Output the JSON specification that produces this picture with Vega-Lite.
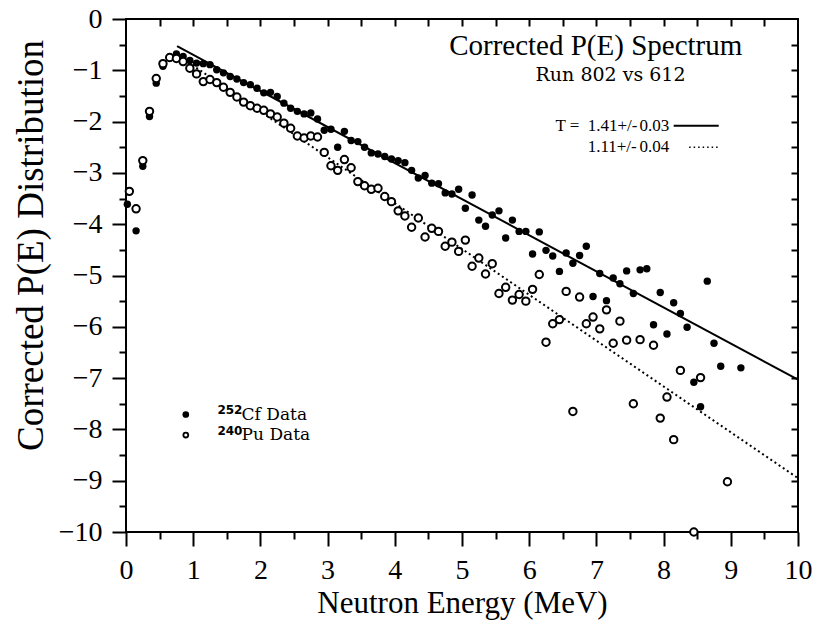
{
  "$schema": "https://vega.github.io/schema/vega-lite/v6.json",
  "width": 672,
  "height": 513,
  "autosize": {"type": "none"},
  "padding": {"left": 126, "top": 19, "right": 15, "bottom": 93},
  "background": "white",
  "config": {
    "view": {"stroke": "black", "strokeWidth": 2},
    "axis": {"grid": false, "domain": false, "tickColor": "black", "labelColor": "black", "titleColor": "black", "labelFont": "Liberation Serif", "titleFont": "Liberation Serif", "titleFontWeight": "normal"}
  },
  "datasets": {
    "cf": [
      {"x": 0.02, "y": -3.61}, {"x": 0.15, "y": -4.13}, {"x": 0.25, "y": -2.87}, {"x": 0.35, "y": -1.9}, {"x": 0.45, "y": -1.25},
      {"x": 0.55, "y": -0.92}, {"x": 0.65, "y": -0.76}, {"x": 0.75, "y": -0.68}, {"x": 0.85, "y": -0.73}, {"x": 0.95, "y": -0.81},
      {"x": 1.05, "y": -0.86}, {"x": 1.15, "y": -0.87}, {"x": 1.25, "y": -0.89}, {"x": 1.35, "y": -0.99}, {"x": 1.45, "y": -1.05},
      {"x": 1.55, "y": -1.12}, {"x": 1.65, "y": -1.17}, {"x": 1.75, "y": -1.24}, {"x": 1.85, "y": -1.28}, {"x": 1.95, "y": -1.35},
      {"x": 2.05, "y": -1.44}, {"x": 2.15, "y": -1.43}, {"x": 2.25, "y": -1.51}, {"x": 2.35, "y": -1.64}, {"x": 2.45, "y": -1.74},
      {"x": 2.55, "y": -1.8}, {"x": 2.65, "y": -1.85}, {"x": 2.75, "y": -1.83}, {"x": 2.85, "y": -1.95}, {"x": 2.95, "y": -2.17},
      {"x": 3.05, "y": -2.15}, {"x": 3.15, "y": -2.5}, {"x": 3.25, "y": -2.19}, {"x": 3.35, "y": -2.37}, {"x": 3.45, "y": -2.39},
      {"x": 3.55, "y": -2.5}, {"x": 3.65, "y": -2.61}, {"x": 3.75, "y": -2.63}, {"x": 3.85, "y": -2.68}, {"x": 3.95, "y": -2.73},
      {"x": 4.05, "y": -2.76}, {"x": 4.15, "y": -2.8}, {"x": 4.25, "y": -2.95}, {"x": 4.35, "y": -3.1}, {"x": 4.45, "y": -3.05},
      {"x": 4.55, "y": -3.2}, {"x": 4.65, "y": -3.21}, {"x": 4.75, "y": -3.39}, {"x": 4.85, "y": -3.41}, {"x": 4.95, "y": -3.32},
      {"x": 5.05, "y": -3.69}, {"x": 5.15, "y": -3.43}, {"x": 5.25, "y": -3.92}, {"x": 5.35, "y": -4.04}, {"x": 5.45, "y": -3.82},
      {"x": 5.55, "y": -3.74}, {"x": 5.65, "y": -4.27}, {"x": 5.75, "y": -3.92}, {"x": 5.85, "y": -4.14}, {"x": 5.95, "y": -4.14},
      {"x": 6.05, "y": -4.58}, {"x": 6.15, "y": -4.15}, {"x": 6.25, "y": -4.51}, {"x": 6.35, "y": -4.62}, {"x": 6.45, "y": -4.92},
      {"x": 6.55, "y": -4.56}, {"x": 6.65, "y": -4.76}, {"x": 6.75, "y": -4.61}, {"x": 6.85, "y": -4.43}, {"x": 6.95, "y": -5.41},
      {"x": 7.05, "y": -4.96}, {"x": 7.15, "y": -5.49}, {"x": 7.25, "y": -5.05}, {"x": 7.35, "y": -5.16}, {"x": 7.45, "y": -4.91},
      {"x": 7.55, "y": -5.35}, {"x": 7.65, "y": -4.89}, {"x": 7.75, "y": -4.87}, {"x": 7.85, "y": -5.96}, {"x": 7.95, "y": -5.33},
      {"x": 8.05, "y": -6.14}, {"x": 8.15, "y": -5.53}, {"x": 8.25, "y": -5.74}, {"x": 8.35, "y": -6.01}, {"x": 8.45, "y": -7.08},
      {"x": 8.55, "y": -7.56}, {"x": 8.65, "y": -5.11}, {"x": 8.75, "y": -6.32}, {"x": 8.85, "y": -6.77}, {"x": 9.15, "y": -6.8}
    ],
    "pu": [
      {"x": 0.05, "y": -3.36}, {"x": 0.15, "y": -3.7}, {"x": 0.25, "y": -2.76}, {"x": 0.35, "y": -1.8}, {"x": 0.45, "y": -1.16},
      {"x": 0.55, "y": -0.87}, {"x": 0.65, "y": -0.75}, {"x": 0.75, "y": -0.77}, {"x": 0.85, "y": -0.83}, {"x": 0.95, "y": -0.96},
      {"x": 1.05, "y": -1.07}, {"x": 1.15, "y": -1.22}, {"x": 1.25, "y": -1.18}, {"x": 1.35, "y": -1.24}, {"x": 1.45, "y": -1.33},
      {"x": 1.55, "y": -1.43}, {"x": 1.65, "y": -1.52}, {"x": 1.75, "y": -1.62}, {"x": 1.85, "y": -1.69}, {"x": 1.95, "y": -1.74},
      {"x": 2.05, "y": -1.78}, {"x": 2.15, "y": -1.85}, {"x": 2.25, "y": -1.91}, {"x": 2.35, "y": -2.03}, {"x": 2.45, "y": -2.13},
      {"x": 2.55, "y": -2.28}, {"x": 2.65, "y": -2.32}, {"x": 2.75, "y": -2.28}, {"x": 2.85, "y": -2.3}, {"x": 2.95, "y": -2.6},
      {"x": 3.05, "y": -2.86}, {"x": 3.15, "y": -2.95}, {"x": 3.25, "y": -2.74}, {"x": 3.35, "y": -2.9}, {"x": 3.45, "y": -3.17},
      {"x": 3.55, "y": -3.25}, {"x": 3.65, "y": -3.32}, {"x": 3.75, "y": -3.3}, {"x": 3.85, "y": -3.46}, {"x": 3.95, "y": -3.56},
      {"x": 4.05, "y": -3.74}, {"x": 4.15, "y": -3.84}, {"x": 4.25, "y": -4.06}, {"x": 4.35, "y": -3.88}, {"x": 4.45, "y": -4.25},
      {"x": 4.55, "y": -4.08}, {"x": 4.65, "y": -4.14}, {"x": 4.75, "y": -4.43}, {"x": 4.85, "y": -4.35}, {"x": 4.95, "y": -4.53},
      {"x": 5.05, "y": -4.31}, {"x": 5.15, "y": -4.82}, {"x": 5.25, "y": -4.66}, {"x": 5.35, "y": -4.97}, {"x": 5.45, "y": -4.77},
      {"x": 5.55, "y": -5.35}, {"x": 5.65, "y": -5.23}, {"x": 5.75, "y": -5.48}, {"x": 5.85, "y": -5.37}, {"x": 5.95, "y": -5.5},
      {"x": 6.05, "y": -5.27}, {"x": 6.15, "y": -4.98}, {"x": 6.25, "y": -6.3}, {"x": 6.35, "y": -5.94}, {"x": 6.45, "y": -5.86},
      {"x": 6.55, "y": -5.31}, {"x": 6.65, "y": -7.65}, {"x": 6.75, "y": -5.42}, {"x": 6.85, "y": -5.94}, {"x": 6.95, "y": -5.81},
      {"x": 7.05, "y": -6.04}, {"x": 7.15, "y": -5.67}, {"x": 7.25, "y": -6.32}, {"x": 7.35, "y": -5.89}, {"x": 7.45, "y": -6.26},
      {"x": 7.55, "y": -7.5}, {"x": 7.65, "y": -6.25}, {"x": 7.85, "y": -6.36}, {"x": 7.95, "y": -7.78}, {"x": 8.05, "y": -7.37},
      {"x": 8.15, "y": -8.2}, {"x": 8.25, "y": -6.85}, {"x": 8.45, "y": -10.0}, {"x": 8.55, "y": -6.99}, {"x": 8.95, "y": -9.02}
    ],
    "fit1": [{"x": 0.76, "y": -0.53}, {"x": 10, "y": -7.03}],
    "fit2": [{"x": 0.8, "y": -0.73}, {"x": 10, "y": -8.95}],
    "keyline1": [{"x": 8.15, "y": -2.08}, {"x": 8.82, "y": -2.08}],
    "keyline2": [{"x": 8.38, "y": -2.5}, {"x": 8.82, "y": -2.5}],
    "titles": [
      {"x": 6.99, "y": -0.52, "label": "Corrected P(E) Spectrum"}
    ],
    "subtitles": [
      {"x": 7.21, "y": -1.1, "label": "Run 802 vs 612"}
    ],
    "fitlabels": [
      {"x": 6.39, "y": -2.08, "label": "T ="},
      {"x": 6.87, "y": -2.08, "label": "1.41+/-"},
      {"x": 7.64, "y": -2.08, "label": "0.03"},
      {"x": 6.87, "y": -2.5, "label": "1.11+/-"},
      {"x": 7.64, "y": -2.5, "label": "0.04"}
    ],
    "keypts": [
      {"x": 0.89, "y": -7.71, "series": "Cf"},
      {"x": 0.89, "y": -8.11, "series": "Pu"}
    ],
    "keysup": [
      {"x": 1.36, "y": -7.63, "label": "252"},
      {"x": 1.36, "y": -8.03, "label": "240"}
    ],
    "keytext": [
      {"x": 1.72, "y": -7.71, "label": "Cf Data"},
      {"x": 1.72, "y": -8.11, "label": "Pu Data"}
    ]
  },
  "resolve": {"axis": {"x": "independent", "y": "independent"}},
  "layer": [
    {
      "data": {"name": "fit1"},
      "mark": {"type": "line", "color": "black", "strokeWidth": 2},
      "encoding": {
        "x": {"field": "x", "type": "quantitative", "scale": {"domain": [0, 10], "nice": false, "zero": false},
              "axis": {"orient": "top", "values": [0.5,1,1.5,2,2.5,3,3.5,4,4.5,5,5.5,6,6.5,7,7.5,8,8.5,9,9.5], "tickSize": -7, "tickWidth": 2, "labels": false, "title": null}},
        "y": {"field": "y", "type": "quantitative", "scale": {"domain": [-10, 0], "nice": false, "zero": false},
              "axis": {"orient": "right", "values": [-9.5,-9,-8.5,-8,-7.5,-7,-6.5,-6,-5.5,-5,-4.5,-4,-3.5,-3,-2.5,-2,-1.5,-1,-0.5], "tickSize": -7, "tickWidth": 2, "labels": false, "title": null}}
      }
    },
    {
      "data": {"name": "fit2"},
      "mark": {"type": "line", "color": "black", "strokeWidth": 2, "strokeDash": [2, 3]},
      "encoding": {
        "x": {"field": "x", "type": "quantitative", "axis": null},
        "y": {"field": "y", "type": "quantitative", "axis": null}
      }
    },
    {
      "data": {"name": "cf"},
      "mark": {"type": "point", "shape": "circle", "filled": true, "color": "black", "size": 55, "opacity": 1},
      "encoding": {
        "x": {"field": "x", "type": "quantitative",
              "axis": {"orient": "bottom", "values": [0,1,2,3,4,5,6,7,8,9,10], "tickSize": 14, "tickWidth": 2, "labelPadding": 10, "labelFontSize": 28, "labelFlush": false, "title": "Neutron Energy (MeV)", "titleFontSize": 31, "titlePadding": 4}},
        "y": {"field": "y", "type": "quantitative",
              "axis": {"orient": "left", "values": [-10,-9,-8,-7,-6,-5,-4,-3,-2,-1,0], "tickSize": 14, "tickWidth": 2, "labelPadding": 10, "labelFontSize": 28, "labelFlush": false, "title": "Corrected P(E) Distribution", "titleFontSize": 37, "titlePadding": 8, "titleY": 226}}
      }
    },
    {
      "data": {"name": "pu"},
      "mark": {"type": "point", "shape": "circle", "filled": false, "color": "black", "fill": "white", "fillOpacity": 1, "strokeWidth": 2, "size": 55, "opacity": 1},
      "encoding": {
        "x": {"field": "x", "type": "quantitative",
              "axis": {"orient": "bottom", "values": [0.5,1.5,2.5,3.5,4.5,5.5,6.5,7.5,8.5,9.5], "tickSize": 7, "tickWidth": 2, "labels": false, "title": null}},
        "y": {"field": "y", "type": "quantitative",
              "axis": {"orient": "left", "values": [-9.5,-8.5,-7.5,-6.5,-5.5,-4.5,-3.5,-2.5,-1.5,-0.5], "tickSize": 7, "tickWidth": 2, "labels": false, "title": null}}
      }
    },
    {
      "data": {"name": "keyline1"},
      "mark": {"type": "line", "color": "black", "strokeWidth": 2},
      "encoding": {
        "x": {"field": "x", "type": "quantitative", "axis": null},
        "y": {"field": "y", "type": "quantitative", "axis": null}
      }
    },
    {
      "data": {"name": "keyline2"},
      "mark": {"type": "line", "color": "black", "strokeWidth": 1.5, "strokeDash": [1.5, 3]},
      "encoding": {
        "x": {"field": "x", "type": "quantitative", "axis": null},
        "y": {"field": "y", "type": "quantitative", "axis": null}
      }
    },
    {
      "data": {"name": "titles"},
      "mark": {"type": "text", "font": "Liberation Serif", "fontSize": 29, "color": "black", "align": "center", "baseline": "middle"},
      "encoding": {
        "x": {"field": "x", "type": "quantitative", "axis": null},
        "y": {"field": "y", "type": "quantitative", "axis": null},
        "text": {"field": "label"}
      }
    },
    {
      "data": {"name": "subtitles"},
      "mark": {"type": "text", "font": "DejaVu Serif", "fontSize": 19, "color": "black", "align": "center", "baseline": "middle"},
      "encoding": {
        "x": {"field": "x", "type": "quantitative", "axis": null},
        "y": {"field": "y", "type": "quantitative", "axis": null},
        "text": {"field": "label"}
      }
    },
    {
      "data": {"name": "fitlabels"},
      "mark": {"type": "text", "font": "Liberation Serif", "fontSize": 17, "color": "black", "align": "left", "baseline": "middle"},
      "encoding": {
        "x": {"field": "x", "type": "quantitative", "axis": null},
        "y": {"field": "y", "type": "quantitative", "axis": null},
        "text": {"field": "label"}
      }
    },
    {
      "data": {"name": "keypts"},
      "mark": {"type": "point", "shape": "circle", "color": "black", "strokeWidth": 1.8, "size": 24, "opacity": 1},
      "encoding": {
        "x": {"field": "x", "type": "quantitative", "axis": null},
        "y": {"field": "y", "type": "quantitative", "axis": null},
        "fill": {"field": "series", "type": "nominal", "scale": {"domain": ["Cf", "Pu"], "range": ["black", "white"]}, "legend": null}
      }
    },
    {
      "data": {"name": "keysup"},
      "mark": {"type": "text", "font": "DejaVu Sans", "fontSize": 12, "fontWeight": "bold", "color": "black", "align": "left", "baseline": "middle"},
      "encoding": {
        "x": {"field": "x", "type": "quantitative", "axis": null},
        "y": {"field": "y", "type": "quantitative", "axis": null},
        "text": {"field": "label"}
      }
    },
    {
      "data": {"name": "keytext"},
      "mark": {"type": "text", "font": "DejaVu Serif", "fontSize": 17, "color": "black", "align": "left", "baseline": "middle"},
      "encoding": {
        "x": {"field": "x", "type": "quantitative", "axis": null},
        "y": {"field": "y", "type": "quantitative", "axis": null},
        "text": {"field": "label"}
      }
    }
  ]
}
